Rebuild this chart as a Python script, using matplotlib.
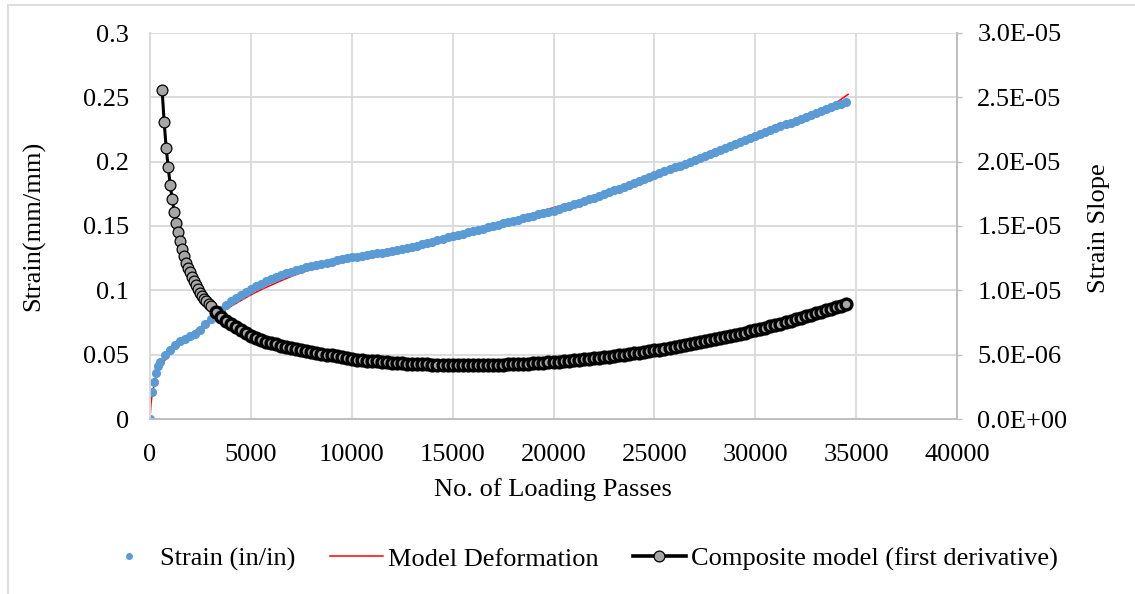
import numpy as np
import matplotlib
matplotlib.use("Agg")
import matplotlib.pyplot as plt
from matplotlib.lines import Line2D
from matplotlib.ticker import FuncFormatter

# --- data ---
# measured strain (blue dots)
passes_strain = [0, 100, 200, 300, 400] + list(range(500, 34501, 250))
strain = [
    0, 0.021, 0.029, 0.036, 0.041,
    0.0445, 0.050, 0.054, 0.0575, 0.0605, 0.0625, 0.0645, 0.066, 0.069, 0.0735,
    0.0775, 0.0815, 0.085, 0.0885, 0.0915, 0.094, 0.0965, 0.099, 0.1012, 0.1032,
    0.1052, 0.107, 0.1088, 0.1103, 0.1118, 0.1132, 0.1145, 0.1157, 0.1168, 0.1178,
    0.1188, 0.1197, 0.1206, 0.1215, 0.1224, 0.1232, 0.124, 0.1248, 0.1256, 0.1262,
    0.1268, 0.1275, 0.1281, 0.1287, 0.1294, 0.13, 0.1307, 0.1314, 0.1322, 0.133,
    0.1339, 0.1348, 0.1358, 0.1368, 0.1378, 0.1389, 0.14, 0.1411, 0.1422, 0.1432,
    0.1441, 0.1451, 0.146, 0.147, 0.148, 0.149, 0.15, 0.151, 0.152, 0.153,
    0.154, 0.155, 0.156, 0.157, 0.158, 0.159, 0.160, 0.161, 0.162, 0.1632,
    0.1645, 0.1657, 0.1669, 0.1682, 0.1695, 0.1708, 0.172, 0.1734, 0.1748, 0.1762,
    0.1776, 0.179, 0.1805, 0.182, 0.1835, 0.185, 0.1865, 0.188, 0.1895, 0.191,
    0.1925, 0.194, 0.1955, 0.197, 0.1985, 0.2, 0.2015, 0.203, 0.2045, 0.206,
    0.2076, 0.2091, 0.2107, 0.2122, 0.2138, 0.2153, 0.2169, 0.2184, 0.22, 0.2215,
    0.223, 0.2244, 0.2259, 0.2274, 0.2289, 0.2303, 0.2318, 0.2333, 0.2348, 0.2362,
    0.2377, 0.2392, 0.2407, 0.2422, 0.2437, 0.2451, 0.2466,
]

# model deformation (red line)
passes_model = [0, 50, 100, 200, 300, 500, 750, 1000, 1500, 2000, 2500, 3000, 3500,
                4000, 4500, 5000, 5500, 6000, 6500, 7000, 7500, 8000, 9000, 10000,
                11000, 12000, 13000, 14000, 15000, 16000, 17000, 18000, 19000, 20000,
                21000, 22000, 23000, 24000, 25000, 26000, 27000, 28000, 29000, 30000,
                31000, 32000, 33000, 34000, 34600]
model_strain = [0, 0.012, 0.018, 0.026, 0.032, 0.040, 0.046, 0.051, 0.0595, 0.066,
                0.0715, 0.0775, 0.083, 0.0875, 0.092, 0.0965, 0.1005, 0.104, 0.1075,
                0.1108, 0.1137, 0.1163, 0.1208, 0.1248, 0.1283, 0.1318, 0.1353, 0.139,
                0.1428, 0.1468, 0.151, 0.1553, 0.1598, 0.1643, 0.1685, 0.1728, 0.178,
                0.1838, 0.1895, 0.1953, 0.2012, 0.207, 0.213, 0.2192, 0.2255, 0.232,
                0.2387, 0.2457, 0.2523]

# composite model first derivative (black / grey markers), in units of 1E-06
passes_slope = list(range(600, 3001, 100)) + list(range(3250, 34501, 250))
slope_e6 = [
    25.6, 23.1, 21.1, 19.6, 18.2, 17.1, 16.1, 15.25, 14.5, 13.8,
    13.2, 12.65, 12.15, 11.75, 11.4, 11.05, 10.7, 10.4, 10.1, 9.8,
    9.55, 9.35, 9.15, 8.95, 8.8,
    8.35, 7.95, 7.65, 7.4, 7.15, 6.95, 6.7, 6.45, 6.3, 6.15,
    6.02, 5.9, 5.8, 5.7, 5.6, 5.5, 5.42, 5.34, 5.27, 5.2,
    5.13, 5.07, 5.01, 4.95, 4.87, 4.8, 4.72, 4.65, 4.62, 4.58,
    4.54, 4.5, 4.47, 4.44, 4.41, 4.37, 4.35, 4.32, 4.3, 4.28,
    4.27, 4.25, 4.24, 4.22, 4.21, 4.2, 4.19, 4.18, 4.18, 4.17,
    4.17, 4.17, 4.18, 4.18, 4.19, 4.2, 4.21, 4.23, 4.24, 4.26,
    4.28, 4.29, 4.31, 4.33, 4.35, 4.38, 4.4, 4.43, 4.46, 4.49,
    4.52, 4.56, 4.6, 4.64, 4.68, 4.72, 4.76, 4.81, 4.85, 4.9,
    4.95, 5.0, 5.05, 5.1, 5.16, 5.22, 5.28, 5.34, 5.4, 5.47,
    5.53, 5.6, 5.67, 5.75, 5.82, 5.9, 5.97, 6.05, 6.12, 6.2,
    6.29, 6.37, 6.46, 6.55, 6.64, 6.72, 6.81, 6.9, 7.0, 7.1,
    7.2, 7.3, 7.41, 7.52, 7.63, 7.75, 7.86, 7.97, 8.08, 8.2,
    8.32, 8.45, 8.57, 8.7, 8.82, 8.94,
]

x_ticks = [0, 5000, 10000, 15000, 20000, 25000, 30000, 35000, 40000]
y_ticks = [0, 0.05, 0.1, 0.15, 0.2, 0.25, 0.3]
y2_ticks = [0, 5e-6, 1e-5, 1.5e-5, 2e-5, 2.5e-5, 3e-5]

# --- style ---
plt.rcParams['font.family'] = ['Liberation Serif', 'DejaVu Serif']
FS = 19
GRID = '#d9d9d9'
AXIS = '#bfbfbf'
BLUE = '#5b9bd5'
GREY = '#a6a6a6'

W, H = 1135, 594
fig = plt.figure(figsize=(W / 100, H / 100), dpi=100)
ax = fig.add_axes([150 / W, 1 - 419 / H, 807 / W, 386 / H])
ax2 = ax.twinx()

ax.plot(passes_model, model_strain, color='#ff0000', lw=1.1, zorder=2)
ax.plot(passes_strain, strain, ls='none', marker='o', ms=6.6,
        mfc=BLUE, mec=BLUE, mew=0, zorder=3)

slope = [v * 1e-6 for v in slope_e6]
n_sep = 25  # first markers sit apart; the rest pile up into a band
ax2.plot(passes_slope, slope, color='black', lw=2.2)
ax2.plot(passes_slope[:n_sep], slope[:n_sep], ls='none', marker='o', ms=7.8,
         mfc=GREY, mec='black', mew=0.9)
ax2.plot(passes_slope[n_sep:], slope[n_sep:], ls='none', marker='o', ms=7.8,
         mfc=GREY, mec='black', mew=2.4)

ax.set_xlim(0, 40000)
ax.set_ylim(0, 0.3)
ax2.set_ylim(0, 3e-5)
ax.set_xticks(x_ticks)
ax.set_yticks(y_ticks)
ax2.set_yticks(y2_ticks)
ax.yaxis.set_major_formatter(FuncFormatter(lambda v, p: f"{v:g}"))
ax.xaxis.set_major_formatter(FuncFormatter(lambda v, p: f"{int(v)}"))
ax2.yaxis.set_major_formatter(FuncFormatter(lambda v, p: f"{v:.1E}"))

ax.grid(True, color=GRID, lw=1.3)
ax.set_axisbelow(True)
ax.tick_params(axis='both', length=0, labelsize=FS)
ax.tick_params(axis='y', pad=15)
ax.tick_params(axis='x', pad=18)
ax2.tick_params(axis='y', length=3.6, width=1, color=AXIS, labelsize=FS, pad=11)

for a in (ax, ax2):
    a.spines['top'].set_visible(False)
    a.spines['left'].set_color(GRID)
    a.spines['left'].set_linewidth(1.3)
    a.spines['bottom'].set_color(AXIS)
    a.spines['bottom'].set_linewidth(1.3)
    a.spines['right'].set_color(AXIS)
    a.spines['right'].set_linewidth(1.3)

fig.text(553 / W, 1 - 490 / H, 'No. of Loading Passes', fontsize=FS,
         ha='center', va='center')
fig.text(34 / W, 1 - 226 / H, 'Strain(mm/mm)', fontsize=FS, rotation=90,
         ha='center', va='center')
fig.text(1099 / W, 1 - 228 / H, 'Strain Slope', fontsize=FS, rotation=90,
         ha='center', va='center')

handles = [
    Line2D([], [], ls='none', marker='o', ms=5.0, mfc=BLUE, mec=BLUE, mew=0),
    Line2D([], [], color='#ff0000', lw=1.1),
    Line2D([], [], color='black', lw=2.6, marker='o', ms=7.8, mfc=GREY,
           mec='black', mew=0.9),
]
labels = ['Strain (in/in)', 'Model Deformation', 'Composite model (first derivative)']
fig.legend(handles, labels, loc='center', bbox_to_anchor=(580 / W, 1 - 559 / H),
           ncol=3, frameon=False, fontsize=FS, handlelength=2.0,
           handletextpad=0.2, columnspacing=1.3)

# chart border
fig.add_artist(Line2D([8 / W, 1], [1 - 5 / H, 1 - 5 / H], color=GRID, lw=1.3,
                      transform=fig.transFigure))
fig.add_artist(Line2D([8 / W, 8 / W], [0, 1 - 5 / H], color=GRID, lw=1.3,
                      transform=fig.transFigure))

fig.savefig('out.png', dpi=100)
